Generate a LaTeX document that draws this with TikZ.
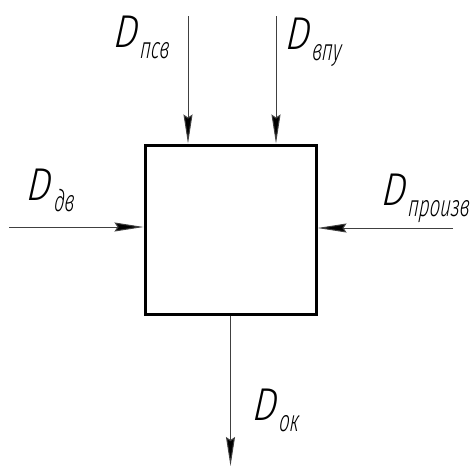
\documentclass[tikz,border=0pt]{standalone}
\usepackage{fontspec}
\newfontfamily\gD[FakeSlant=0.1,FakeStretch=0.85]{Fira Sans Light Italic}
\newfontfamily\gS[FakeSlant=0.1,FakeStretch=0.62]{Fira Sans Light Italic}
\usetikzlibrary{arrows.meta}
\newcommand{\lbl}[1]{{\gD\fontsize{46}{46}\selectfont D}\kern2pt\raisebox{-11pt}{\gS\fontsize{30}{30}\selectfont #1}}
\begin{document}
\begin{tikzpicture}[x=1pt,y=-1pt,
  arr/.style={line width=1pt,draw=black!75,-{Stealth[length=29pt,width=9pt,inset=3pt,fill=black]}},
  lab/.style={anchor=base west,inner sep=0pt,outer sep=0pt}]
\useasboundingbox (0,0) rectangle (476,466);
\node[draw,line width=3pt,minimum width=171pt,minimum height=169pt,inner sep=0pt] (box) at (230.5,229.5) {};
\coordinate (t1) at (188,16);
\coordinate (t2) at (276,16);
\coordinate (l1) at (9,227);
\coordinate (r1) at (453,228);
\coordinate (b1) at (box.south);
\coordinate (b2) at (230.5,466);
\draw[arr] (t1) -- (t1 |- box.north);
\draw[arr] (t2) -- (t2 |- box.north);
\draw[arr] (l1) -- (l1 -| box.west);
\draw[arr] (r1) -- (r1 -| box.east);
\draw[arr] (b1) -- (b2);
\node[lab] (n1) at (113,47) {\lbl{псв}};
\node[lab] (n2) at (285,49) {\lbl{впу}};
\node[lab] (n3) at (27,200) {\lbl{дв}};
\node[lab] (n4) at (381,205) {\lbl{произв}};
\node[lab] (n5) at (252,420) {\lbl{ок}};
\end{tikzpicture}
\end{document}
